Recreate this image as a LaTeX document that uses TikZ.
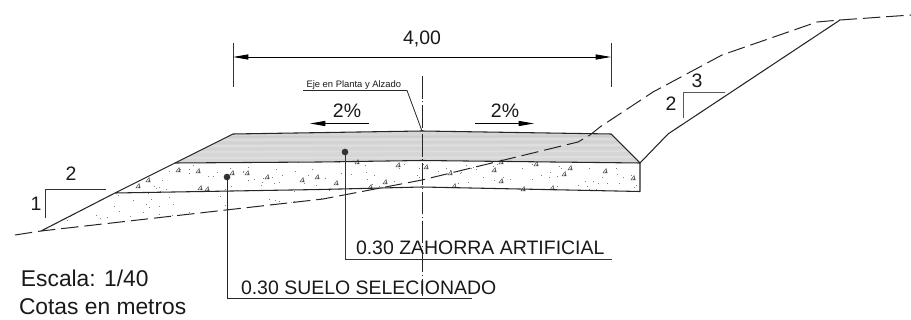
\documentclass[tikz,border=0pt]{standalone}
\usepackage{fontspec}
\setmainfont{Liberation Sans}
\usetikzlibrary{arrows.meta}
\tikzset{
  lbl/.style={inner sep=0pt,outer sep=0pt,anchor=base west,text=black!90},
  big/.style={lbl,font=\fontsize{14.6}{16}\selectfont},
  note/.style={lbl,font=\fontsize{17.1}{19}\selectfont},
  tiny/.style={lbl,font=\fontsize{7.05}{8}\selectfont},
  edge/.style={line width=0.8pt,black!85,line join=round},
  thin line/.style={line width=0.6pt,black!80},
  ground/.style={line width=0.75pt,black!85,dash pattern=on 13pt off 4.5pt},
  axis/.style={line width=0.7pt,black!85,dash pattern=on 17pt off 2pt on 0.7pt off 2pt},
  head/.style={-{Triangle[length=11.5pt,width=3.8pt]}},
  dimline/.style={line width=0.7pt,black,{Triangle[length=11.5pt,width=3.8pt]}-{Triangle[length=11.5pt,width=3.8pt]}},
  ptr/.style={circle,fill=black!80,minimum size=5pt,inner sep=0pt},
}
\newcommand{\tridot}[2]{%
  \draw[line width=0.35pt,black!70,fill=white] (#1-2,#2+1.8) -- (#1+2.2,#2+1.8) -- (#1+1.1,#2-2.4) -- cycle;
  \fill[black!70] (#1+2.2,#2+1.8) -- (#1+0.3,#2+1.8) -- (#1+1.1,#2-0.8) -- cycle;}
\begin{document}
\begin{tikzpicture}[x=0.75pt,y=-0.75pt]
\useasboundingbox (0,0) rectangle (911,320);
% road geometry
\coordinate (slopeToe) at (41,231);
\coordinate (slopeMid) at (115,193);
\coordinate (subTop) at (175,163);
\coordinate (topL) at (233,134);
\coordinate (crown) at (422,131);
\coordinate (topR) at (611,134);
\coordinate (edgeR) at (640,163);
\coordinate (midCrown) at (422,160.5);
\coordinate (edgeRb) at (640,191.5);
\coordinate (baseMid) at (422,187);
\coordinate (berm) at (668,134);
\coordinate (crest) at (840,20);
% gray pavement
\fill[black!16] (subTop) -- (topL) -- (crown) -- (topR) -- (edgeR) -- (midCrown) -- cycle;
\begin{scope}
\clip (subTop) -- (topL) -- (crown) -- (topR) -- (edgeR) -- (midCrown) -- cycle;
\foreach \yy/\gg in {137/20,140/13,143/18,146/12,149/17,152/13,155/16,158/12}
  \draw[line width=1.2pt,black!\gg] (170,\yy) -- (645,\yy-1);
\end{scope}
% aggregate stipple
\begin{scope}
\clip (subTop) -- (midCrown) -- (edgeR) -- (edgeRb) -- (baseMid) -- (370,188) -- (323,199) -- (slopeToe) -- cycle;
\pgfmathsetseed{4217}
\foreach \i in {1,...,300}{
  \pgfmathsetmacro{\px}{50+rnd*590}
  \pgfmathsetmacro{\py}{160+rnd*70}
  \fill[black!50] (\px,\py) rectangle ++(1,1);
}
\end{scope}
\foreach \a/\b in {178/170,198/171,148/180,138/186,200/188,207/189,232/173,247/173,267/177,302/180,317/177,357/162,398/165,426/167,336/183,370/187,385/182,450/173,494/170,501/162,501/181,454/186,536/164,570/168,564/174,605/171,633/178,552/188,523/189}
  {\tridot{\a}{\b}}
% outlines
\draw[edge] (slopeToe) -- (slopeMid) -- (subTop) -- (topL) -- (crown) -- (topR) -- (edgeR) -- (edgeRb) -- (baseMid) -- (320,189.5) -- (slopeMid);
\draw[edge] (subTop) -- (320,162) -- (midCrown) -- (edgeR);
\draw[edge] (edgeR) -- (berm) -- (crest);
% natural ground
\coordinate (g0) at (15,235);
\coordinate (g9) at (911,15);
\draw[ground] (g0) -- (slopeToe) -- (323,199) -- (422,180) -- (578,142) -- (590,135) -- (600,127) -- (653,92) -- (722,55) -- (817,22) -- (crest) -- (g9);
% axis
\coordinate (axisTop) at (422,76);
\coordinate (axisEnd) at (422,296);
\draw[axis] (axisTop) -- (axisEnd);
% overall dimension
\coordinate (dimLa) at (233,43);
\coordinate (dimLb) at (233,87);
\coordinate (dimRa) at (611,43);
\coordinate (dimRb) at (611,87);
\coordinate (dimL) at (233,57);
\coordinate (dimR) at (611,57);
\draw[thin line] (dimLa) -- (dimLb);
\draw[thin line] (dimRa) -- (dimRb);
\draw[dimline] (dimL) -- (dimR);
\node[big,anchor=base] (dimText) at (422,45) {4,00};
% axis callout
\node[tiny] (ejeText) at (306.5,87.5) {Eje en Planta y Alzado};
\coordinate (ejeA) at (303,90.5);
\coordinate (ejeB) at (407,90.5);
\draw[line width=0.6pt,black!85] (ejeA) -- (ejeB) -- (crown);
% crossfall
\node[big,anchor=base] (pctL) at (347,118) {2\%};
\node[big,anchor=base] (pctR) at (505,118) {2\%};
\coordinate (alA) at (369,123.5);
\coordinate (alB) at (310,123.5);
\coordinate (arA) at (475,123.5);
\coordinate (arB) at (534,123.5);
\draw[line width=0.7pt,black,head] (alA) -- (alB);
\draw[line width=0.7pt,black,head] (arA) -- (arB);
% slope ratios
\coordinate (rlA) at (106,189);
\coordinate (rlB) at (45,189);
\coordinate (rlC) at (45,218);
\draw[thin line] (rlA) -- (rlB) -- (rlC);
\node[big,anchor=base] (rl2) at (71,181) {2};
\node[big,anchor=base] (rl1) at (36,211) {1};
\coordinate (rrA) at (725,92);
\coordinate (rrB) at (683,92);
\coordinate (rrC) at (683,118);
\draw[line width=0.7pt,black!65] (rrA) -- (rrB) -- (rrC);
\node[big,anchor=base] (rr3) at (697,88) {3};
\node[big,anchor=base] (rr2) at (671,111) {2};
% layer labels
\node[ptr] (dotZ) at (345,152) {};
\coordinate (zBend) at (345,260);
\coordinate (zEnd) at (612,260);
\draw[line width=0.75pt,black!80] (dotZ.center) -- (zBend) -- (zEnd);
\node[big] (zText) at (356,255) {0.30 ZAHORRA ARTIFICIAL};
\node[ptr] (dotS) at (227,177) {};
\coordinate (sBend) at (227,299);
\coordinate (sEnd) at (472,299);
\draw[line width=0.75pt,black!85] (dotS.center) -- (sBend) -- (sEnd);
\node[big] (sText) at (241,295) {0.30 SUELO SELECIONADO};
% notes
\node[note] (escala) at (21,287) {Escala: 1/40};
\node[note] (cotas) at (19,315) {Cotas en metros};
\end{tikzpicture}
\end{document}
